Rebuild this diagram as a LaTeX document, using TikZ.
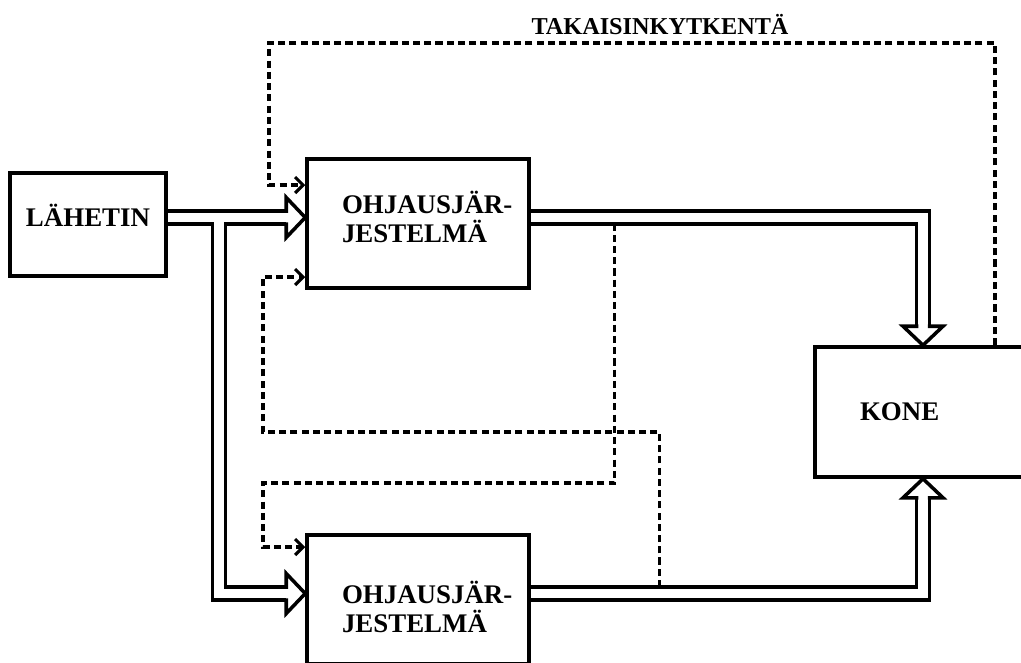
\documentclass[tikz,border=0pt]{standalone}
\usepackage{fontspec}
\setmainfont{Liberation Serif}
\usetikzlibrary{arrows.meta, positioning, backgrounds}

\begin{document}
\begin{tikzpicture}[
    font=\bfseries\fontsize{15.3}{17}\selectfont,
    box/.style={rectangle, draw, line width=2pt, minimum height=2.58cm},
    lpad/.style={align=left, execute at begin node={\leftskip=#1}},
    blk/.style={box, minimum width=4.44cm, text width=3.94cm, inner xsep=0.25cm, lpad=0.45cm},
    dbl/.style={double, double distance=5.4pt, line width=2pt},
    fbk/.style={dash pattern=on 4pt off 2.4pt, line width=1.8pt, -{Straight Barb[length=4.5pt, width=9pt, line width=1.8pt]}},
    hollow/.pic={\draw[line width=2pt, fill=white, line cap=rect] (-0.38,0.13) -- (-0.38,0.4) -- (0,0) -- (-0.38,-0.4) -- (-0.38,-0.13);}
]

%% ── Frame ────────────────────────────────────────────────────────────────────
\useasboundingbox (0,0) rectangle (20.42,-13.24);
\clip (0,0) rectangle (20.42,-13.24);

%% ── Blocks ───────────────────────────────────────────────────────────────────
\node[box, minimum width=3.12cm, minimum height=2.06cm, text height=1.7pt, text depth=0pt]
      (lah)  at (1.76, -4.49)  {LÄHETIN};
\node[blk, text height=0pt, text depth=11.9pt] (ohj1) at (8.36, -4.47)  {OHJAUSJÄR-\\JESTELMÄ};
\node[blk, text height=4pt, text depth=0pt]    (ohj2) at (8.36, -11.99) {OHJAUSJÄR-\\JESTELMÄ};
\node[box, minimum width=4.32cm, minimum height=2.6cm, text width=3.92cm, inner xsep=0.2cm, lpad=0.7cm]
      (kone) at (18.46, -8.24) {KONE};
\node[font=\bfseries\fontsize{13.8}{16}\selectfont] (lbl) at (13.2, -0.5) {TAKAISINKYTKENTÄ};

%% ── Helper points ────────────────────────────────────────────────────────────
\coordinate (t1) at ([yshift=0.12cm]ohj1.west);
\coordinate (t2) at ([yshift=0.12cm]ohj2.west);
\path (lah.east |- t1) ++(1.02,0) coordinate (jn);
\coordinate (fb) at (5.38, -0.86);
\coordinate (c2) at (5.26, -9.66);
\coordinate (c3) at (5.26, -8.64);

\begin{scope}[on background layer]
%% ── Control lines (double) ───────────────────────────────────────────────────
\draw[dbl] (jn) |- ([xshift=-0.38cm]t2) (lah.east |- t1) -- ([xshift=-0.38cm]t1);
\draw[dbl, shorten >=0.38cm] ([yshift=0.12cm]ohj1.east) -| (kone.north);
\draw[dbl, shorten >=0.38cm] ([yshift=0.12cm]ohj2.east) -| (kone.south);
\pic at (t1) {hollow};
\pic at (t2) {hollow};
\pic[rotate=-90] at (kone.north) {hollow};
\pic[rotate=90]  at (kone.south) {hollow};

%% ── Feedback lines (dashed) ──────────────────────────────────────────────────
\draw[fbk] ([xshift=1.44cm]kone.north) |- (fb) |- ([yshift=0.77cm]ohj1.west);
\draw[fbk] ([xshift=1.68cm]ohj1.east) |- (c2) |- ([yshift=1.05cm]ohj2.west);
\draw[fbk] ([xshift=2.58cm, yshift=0.25cm]ohj2.east) |- (c3) |- ([yshift=-1.07cm]ohj1.west);
\end{scope}

\end{tikzpicture}
\end{document}
